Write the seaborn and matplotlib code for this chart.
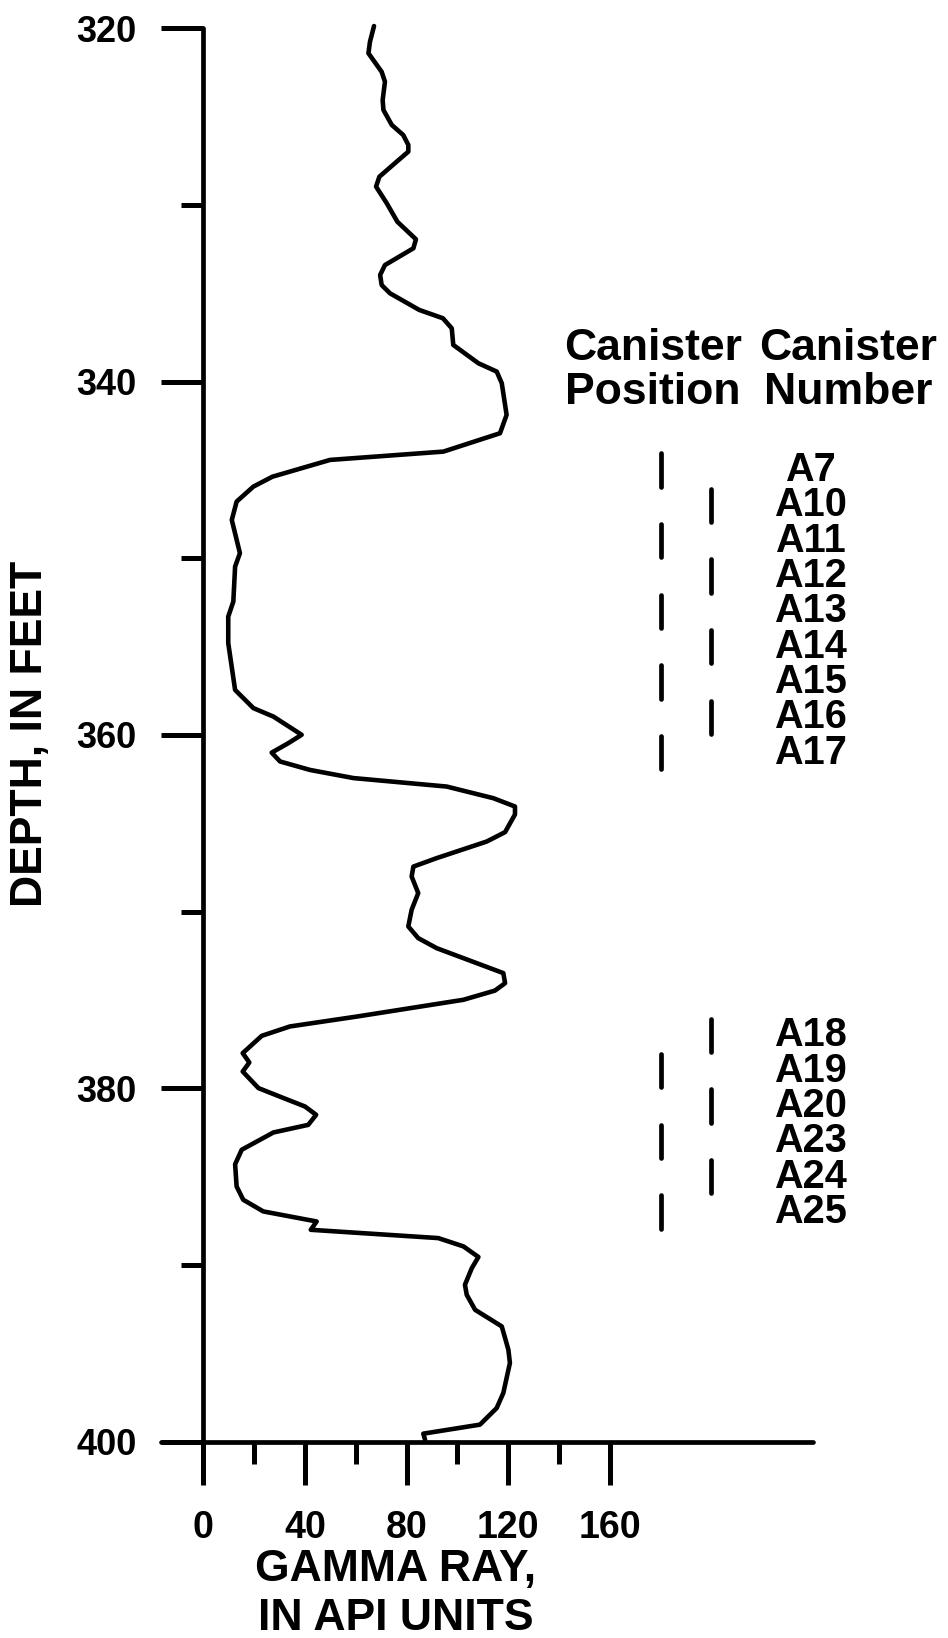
import numpy as np
import pandas as pd
import seaborn as sns
import matplotlib.pyplot as plt

sns.set_style('white')
plt.rcParams['font.family'] = ['Liberation Sans', 'DejaVu Sans']
plt.rcParams['font.weight'] = 'bold'
plt.rcParams['text.color'] = 'black'
plt.rcParams['axes.labelcolor'] = 'black'
plt.rcParams['axes.edgecolor'] = 'black'
plt.rcParams['xtick.color'] = 'black'
plt.rcParams['ytick.color'] = 'black'

# gamma ray log
depth_ft = [319.87, 320.76, 321.41, 322.46, 323.02, 324.06, 324.62, 325.47, 326.04, 326.6,
            326.98, 327.55, 328.4, 328.96, 329.9, 330.95, 331.94, 332.45, 333.4, 333.96,
            334.53, 335.0, 335.94, 336.41, 336.98, 337.92, 338.96, 339.43, 340.09, 341.88,
            342.92, 343.96, 344.43, 345.38, 345.94, 346.79, 347.83, 349.71, 350.47, 352.45,
            353.3, 354.8, 357.45, 358.48, 358.96, 359.99, 360.46, 361.0, 361.5, 361.98,
            362.44, 362.92, 363.58, 364.05, 364.5, 365.5, 366.03, 366.97, 367.45, 368.01,
            368.95, 369.9, 370.84, 371.5, 372.07, 373.48, 374.05, 374.47, 374.99, 375.94,
            376.5, 377.03, 378.01, 378.54, 379.05, 379.99, 380.55, 381.03, 381.5, 382.07,
            382.5, 383.48, 384.3, 385.56, 386.31, 386.97, 387.54, 388.01, 388.48, 388.95,
            389.55, 390.18, 391.12, 391.69, 392.54, 393.48, 394.8, 395.55, 397.25, 398.1,
            399.04, 399.55, 399.89]
gamma_api = [67.2, 65.6, 65.0, 70.2, 71.5, 70.6, 70.9, 74.2, 78.7, 80.7,
             80.7, 76.1, 69.3, 68.0, 72.2, 76.4, 83.7, 82.7, 71.5, 69.6,
             70.2, 73.5, 85.0, 94.3, 97.8, 98.4, 108.3, 115.5, 117.5, 119.4,
             116.8, 94.5, 49.9, 27.2, 19.7, 13.1, 11.2, 14.4, 12.5, 11.8,
             9.8, 9.8, 12.5, 19.7, 27.6, 38.7, 33.5, 26.9, 30.2, 42.0,
             59.1, 95.8, 114.2, 122.7, 122.7, 118.8, 111.6, 91.9, 82.7, 82.0,
             84.6, 82.0, 80.7, 84.6, 91.9, 118.1, 118.8, 114.8, 102.4, 60.4,
             34.1, 23.0, 15.5, 18.1, 15.5, 21.7, 31.5, 40.0, 44.4, 41.3,
             27.6, 15.1, 12.5, 13.1, 15.7, 23.6, 44.6, 42.3, 92.5, 102.4,
             108.3, 105.7, 103.0, 103.7, 107.0, 117.5, 120.1, 120.7, 118.1, 115.5,
             108.9, 86.6, 87.3]

# canisters: top depth of each 2-ft interval and which column it sits in
canister_ids = ['A7', 'A10', 'A11', 'A12', 'A13', 'A14', 'A15', 'A16', 'A17',
                'A18', 'A19', 'A20', 'A23', 'A24', 'A25']
canister_top = [344, 346, 348, 350, 352, 354, 356, 358, 360,
                376, 378, 380, 382, 384, 386]
canister_col = ['pos', 'num', 'pos', 'num', 'pos', 'num', 'pos', 'num', 'pos',
                'num', 'pos', 'num', 'pos', 'num', 'pos']

log = pd.DataFrame({'gamma': gamma_api, 'depth': depth_ft})
cans = pd.DataFrame({'id': canister_ids, 'top': canister_top, 'col': canister_col})
cans['mid'] = cans['top'] + 1
col_x = {'pos': 180, 'num': 200}

W, H = 948, 1638
fig = plt.figure(figsize=(W / 100, H / 100), dpi=100)
ax = fig.add_axes([0.1703, 0.1199, 0.6872, 0.8628])

sns.lineplot(data=log, x='gamma', y='depth', sort=False, estimator=None,
             color='black', linewidth=3.3, ax=ax, clip_on=False,
             solid_joinstyle='round', solid_capstyle='round')
ax.set_xlabel('')
ax.set_ylabel('')

for col, grp in cans.groupby('col'):
    lc = ax.vlines([col_x[col]] * len(grp), grp['top'] + 0.05, grp['top'] + 1.95,
                   color='black', linewidth=3.4)
    lc.set_capstyle('round')

for _, r in cans.iterrows():
    ax.text(239, r['mid'], r['id'], ha='center', va='center',
            fontsize=28.5, fontweight='bold')

ax.text(177, 338.1, 'Canister', ha='center', va='center', fontsize=32, fontweight='bold')
ax.text(177, 340.64, 'Position', ha='center', va='center', fontsize=32, fontweight='bold')
ax.text(254, 338.1, 'Canister', ha='center', va='center', fontsize=32, fontweight='bold')
ax.text(254, 340.64, 'Number', ha='center', va='center', fontsize=32, fontweight='bold')

ax.set_xlim(-16.5, 240)
ax.set_ylim(400, 320)

ax.spines['top'].set_visible(False)
ax.spines['right'].set_visible(False)
ax.spines['left'].set_position(('data', 0))
for s in ('left', 'bottom'):
    ax.spines[s].set_linewidth(3.4)
    ax.spines[s].set_capstyle('round')

ax.set_xticks([0, 40, 80, 120, 160])
ax.set_xticks([20, 60, 100, 140], minor=True)
ax.set_yticks([320, 340, 360, 380, 400])
ax.set_yticks([330, 350, 370, 390], minor=True)

ax.tick_params(axis='x', which='major', direction='out', length=31, width=3.6,
               pad=18, labelsize=27, bottom=True)
ax.tick_params(axis='x', which='minor', direction='out', length=16, width=3.6, bottom=True)
ax.tick_params(axis='y', which='major', direction='out', length=30, width=3.6,
               pad=18, labelsize=26, left=True)
ax.tick_params(axis='y', which='minor', direction='out', length=15.5, width=3.6, left=True)
for lbl in ax.get_xticklabels() + ax.get_yticklabels():
    lbl.set_fontweight('bold')

# axis titles placed in figure pixels
fig.text(396 / W, 1 - 1570 / H, 'GAMMA RAY,', ha='center', va='center',
         fontsize=32, fontweight='bold')
fig.text(396 / W, 1 - 1618 / H, 'IN API UNITS', ha='center', va='center',
         fontsize=32, fontweight='bold')
fig.text(31 / W, 1 - 734 / H, 'DEPTH, IN FEET', ha='center', va='center',
         rotation=90, fontsize=32, fontweight='bold')

fig.savefig('out.png', dpi=100, facecolor='white')
